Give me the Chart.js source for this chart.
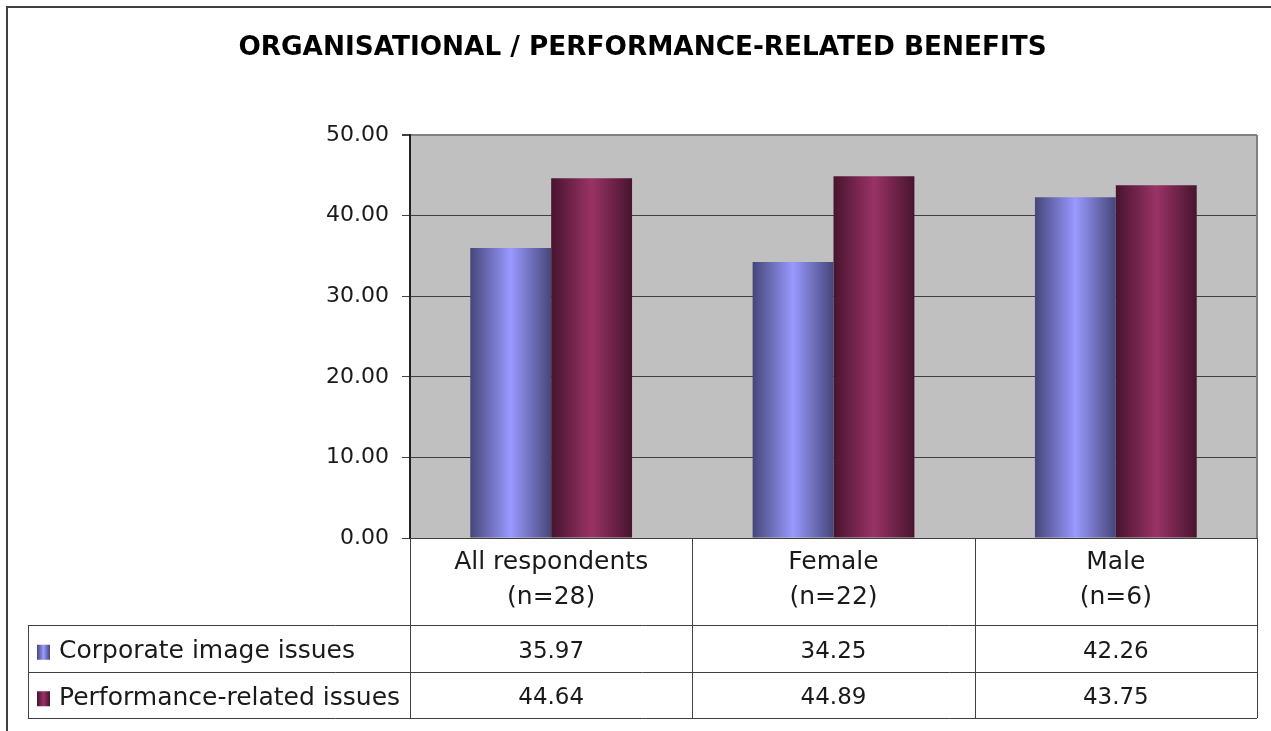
<!DOCTYPE html>
<html lang="en">
<head>
  <meta charset="UTF-8">
  <title>Organisational / Performance-related Benefits</title>
  <script src="https://cdn.jsdelivr.net/npm/chart.js"></script>
  <style>
    * { margin: 0; padding: 0; box-sizing: border-box; }
    body { background: #fff; width: 1271px; height: 731px; overflow: hidden; }
    canvas { display: block; }
  </style>
</head>
<body>
  <canvas id="benefitsChart" width="1271" height="731"></canvas>

  <script>
    const categories = [["All respondents", "(n=28)"], ["Female", "(n=22)"], ["Male", "(n=6)"]];
    const seriesNames = ["Corporate image issues", "Performance-related issues"];
    const corporateImage = [35.97, 34.25, 42.26];
    const performanceRelated = [44.64, 44.89, 43.75];
    const yTicks = [0, 10, 20, 30, 40, 50];

    const FONT = "'DejaVu Sans', sans-serif";
    const LINE = '#404040';
    // dark edge / light middle, like the old office 3d bars
    const shades = [
      { edge: '#46467a', mid: '#9999ff' },
      { edge: '#48142e', mid: '#993366' }
    ];

    function barGradient(ctx, left, width, s) {
      const g = ctx.createLinearGradient(left, 0, left + width, 0);
      g.addColorStop(0, s.edge);
      g.addColorStop(0.5, s.mid);
      g.addColorStop(1, s.edge);
      return g;
    }

    const tablePlugin = {
      id: 'dataTable',
      beforeDraw(chart) {
        const { ctx, chartArea: a } = chart;
        ctx.save();
        ctx.fillStyle = '#fff';
        ctx.fillRect(0, 0, chart.width, chart.height);
        ctx.strokeStyle = LINE;
        ctx.lineWidth = 2;
        ctx.strokeRect(7, 7, chart.width + 20, chart.height + 20);
        ctx.fillStyle = '#c0c0c0';
        ctx.fillRect(a.left, a.top, a.right - a.left, a.bottom - a.top);
        ctx.restore();
      },
      beforeDatasetsDraw(chart) {
        const ctx = chart.ctx;
        chart.data.datasets.forEach((ds, di) => {
          chart.getDatasetMeta(di).data.forEach(el => {
            const { x, width } = el.getProps(['x', 'width'], true);
            el.options = Object.assign({}, el.options, {
              backgroundColor: barGradient(ctx, x - width / 2, width, shades[di])
            });
          });
        });
      },
      afterDraw(chart) {
        const { ctx, chartArea: a, scales: { x } } = chart;
        const tableLeft = 28;
        const rowTop = a.bottom + 87;
        const rowH = 46.5;
        const step = x.getPixelForValue(1) - x.getPixelForValue(0);
        const colEdges = [a.left];
        for (let i = 0; i < categories.length; i++) colEdges.push(x.getPixelForValue(i) + step / 2);
        colEdges[colEdges.length - 1] = a.right;

        ctx.save();
        // plot border right
        ctx.strokeStyle = '#808080';
        ctx.lineWidth = 2;
        ctx.beginPath();
        ctx.moveTo(a.right, a.top);
        ctx.lineTo(a.right, a.bottom);
        ctx.stroke();

        ctx.strokeStyle = LINE;
        ctx.lineWidth = 1;
        ctx.beginPath();
        colEdges.forEach(cx => {
          const px = Math.round(cx) + 0.5;
          ctx.moveTo(px, a.bottom);
          ctx.lineTo(px, rowTop + rowH * 2);
        });
        ctx.moveTo(tableLeft + 0.5, rowTop);
        ctx.lineTo(tableLeft + 0.5, rowTop + rowH * 2);
        for (let r = 0; r <= 2; r++) {
          const py = Math.round(rowTop + rowH * r) + 0.5;
          ctx.moveTo(tableLeft, py);
          ctx.lineTo(a.right, py);
        }
        ctx.stroke();

        ctx.textBaseline = 'middle';
        const rows = [corporateImage, performanceRelated];
        rows.forEach((vals, r) => {
          const cy = rowTop + rowH * r + rowH / 2 + 3.5;
          // legend key
          ctx.fillStyle = barGradient(ctx, 37, 13, shades[r]);
          ctx.fillRect(37, cy - 7, 13, 15);
          ctx.fillStyle = '#1a1a1a';
          ctx.textAlign = 'left';
          ctx.font = '25px ' + FONT;
          ctx.fillText(seriesNames[r], 59, cy);
          ctx.textAlign = 'center';
          ctx.font = '23px ' + FONT;
          vals.forEach((v, i) => ctx.fillText(v.toFixed(2), x.getPixelForValue(i), cy));
        });
        ctx.restore();
      }
    };

    new Chart(document.getElementById('benefitsChart'), {
      type: 'bar',
      data: {
        labels: categories,
        datasets: [
          { label: seriesNames[0], data: corporateImage },
          { label: seriesNames[1], data: performanceRelated }
        ]
      },
      options: {
        responsive: false,
        animation: false,
        events: [],
        layout: { padding: { left: 28, right: 14, top: 0, bottom: 13 } },
        datasets: {
          bar: { barPercentage: 1, categoryPercentage: 0.573, borderWidth: 0 }
        },
        plugins: {
          legend: { display: false },
          tooltip: { enabled: false },
          title: {
            display: true,
            text: 'ORGANISATIONAL / PERFORMANCE-RELATED BENEFITS',
            color: '#000',
            font: { family: FONT, size: 26.3, weight: 'bold' },
            padding: { top: 32, bottom: 71.4 }
          }
        },
        scales: {
          x: {
            grid: { display: false },
            border: { display: true, color: LINE, width: 1 },
            ticks: {
              color: '#1a1a1a',
              font: { family: FONT, size: 25, lineHeight: 1.4 },
              padding: -1,
              maxRotation: 0
            },
            afterFit(scale) { scale.height = 180; }
          },
          y: {
            min: 0,
            max: 50,
            afterBuildTicks(scale) { scale.ticks = yTicks.map(v => ({ value: v })); },
            grid: {
              color: ctx => ctx.tick && ctx.tick.value === 50 ? '#808080' : LINE,
              lineWidth: ctx => ctx.tick && ctx.tick.value === 50 ? 2 : 1,
              tickLength: 8,
              tickColor: LINE
            },
            border: { display: true, color: '#202020', width: 2 },
            ticks: {
              color: '#1a1a1a',
              font: { family: FONT, size: 22 },
              padding: 13,
              callback: v => Number(v).toFixed(2)
            },
            afterFit(scale) { scale.width = 382; }
          }
        }
      },
      plugins: [tablePlugin]
    });
  </script>
</body>
</html>
